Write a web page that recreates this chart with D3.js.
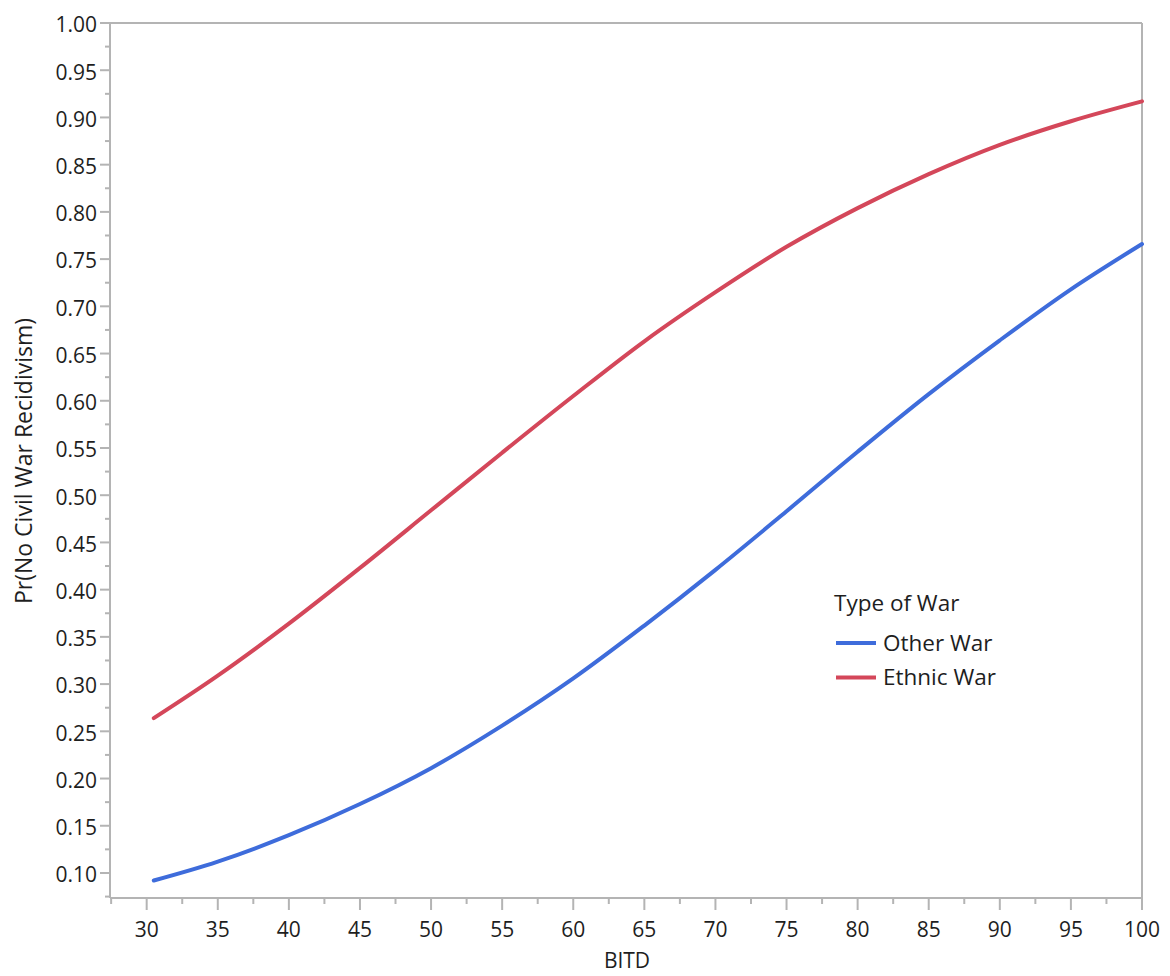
<!DOCTYPE html>
<html>
<head>
<meta charset="utf-8">
<script src="https://cdn.jsdelivr.net/npm/d3@7"></script>
<style>
  html, body { margin: 0; padding: 0; background: #fff; }
  svg text { font-family: "Open Sans", "Noto Sans", sans-serif; fill: #1e1e1e; }
</style>
</head>
<body>
<svg id="chart" width="1170" height="976"></svg>
<script>
// ---- data ----
const bitd = [30.5, 35, 40, 45, 50, 55, 60, 65, 70, 75, 80, 85, 90, 95, 100];
const otherWar = [0.092, 0.112, 0.140, 0.173, 0.211, 0.256, 0.306, 0.362, 0.421, 0.483, 0.546, 0.607, 0.664, 0.718, 0.766];
const ethnicWar = [0.264, 0.309, 0.364, 0.423, 0.484, 0.545, 0.605, 0.663, 0.715, 0.763, 0.804, 0.840, 0.871, 0.896, 0.917];
const seriesNames = ["Other War", "Ethnic War"];
const seriesColors = ["#3e6cdb", "#d4475a"];
const xTicks = [30, 35, 40, 45, 50, 55, 60, 65, 70, 75, 80, 85, 90, 95, 100];
const yTicks = [0.10, 0.15, 0.20, 0.25, 0.30, 0.35, 0.40, 0.45, 0.50, 0.55, 0.60, 0.65, 0.70, 0.75, 0.80, 0.85, 0.90, 0.95, 1.00];
const xTitle = "BITD";
const yTitle = "Pr(No Civil War Recidivism)";
const legendTitle = "Type of War";

(function () {
// ---- layout ----
const pL = 110, pR = 1142, pT = 23, pB = 898;
const svg = d3.select("#chart");
const x = d3.scaleLinear().domain([27.42, 100]).range([pL, pR]);
const y = d3.scaleLinear().domain([0.0735, 1.0]).range([pB, pT]);
const axisColor = "#b4b4b4";

// frame top/right
svg.append("line").attr("x1", pL).attr("x2", pR).attr("y1", pT).attr("y2", pT)
  .attr("stroke", axisColor).attr("stroke-width", 2);
svg.append("line").attr("x1", pR).attr("x2", pR).attr("y1", pT).attr("y2", pB)
  .attr("stroke", axisColor).attr("stroke-width", 2);

// x axis
const xMinor = d3.range(27.5, 100, 5);
const gx = svg.append("g").attr("transform", `translate(0,${pB})`);
gx.append("line").attr("x1", pL).attr("x2", pR).attr("stroke", axisColor).attr("stroke-width", 2);
gx.selectAll(".minor").data(xMinor).join("line").attr("class", "minor")
  .attr("x1", d => x(d)).attr("x2", d => x(d)).attr("y1", 0).attr("y2", 6)
  .attr("stroke", axisColor).attr("stroke-width", 2);
gx.selectAll(".major").data(xTicks).join("line").attr("class", "major")
  .attr("x1", d => x(d)).attr("x2", d => x(d)).attr("y1", 0).attr("y2", 12)
  .attr("stroke", axisColor).attr("stroke-width", 2);
gx.selectAll("text").data(xTicks).join("text")
  .attr("x", d => x(d)).attr("y", 39)
  .attr("text-anchor", "middle").attr("font-size", 21)
  .text(d => d);

// y axis
const yMinor = d3.range(0.075, 1.0, 0.05);
const gy = svg.append("g").attr("transform", `translate(${pL},0)`);
gy.append("line").attr("y1", pT).attr("y2", pB).attr("stroke", axisColor).attr("stroke-width", 2);
gy.selectAll(".minor").data(yMinor).join("line").attr("class", "minor")
  .attr("y1", d => y(d)).attr("y2", d => y(d)).attr("x1", 0).attr("x2", -5)
  .attr("stroke", axisColor).attr("stroke-width", 2);
gy.selectAll(".major").data(yTicks).join("line").attr("class", "major")
  .attr("y1", d => y(d)).attr("y2", d => y(d)).attr("x1", 0).attr("x2", -10)
  .attr("stroke", axisColor).attr("stroke-width", 2);
gy.selectAll("text").data(yTicks).join("text")
  .attr("x", -13).attr("y", d => y(d) + 2).attr("dy", "0.35em")
  .attr("text-anchor", "end").attr("font-size", 21)
  .text(d => d3.format(".2f")(d));

// axis titles
svg.append("text").attr("x", 627).attr("y", 968)
  .attr("text-anchor", "middle").attr("font-size", 21).text(xTitle);
svg.append("text").attr("transform", `translate(32,461) rotate(-90)`)
  .attr("text-anchor", "middle").attr("font-size", 23).text(yTitle);

// lines
const line = d3.line().x(d => x(d[0])).y(d => y(d[1])).curve(d3.curveCatmullRom);
[otherWar, ethnicWar].forEach((vals, i) => {
  svg.append("path").datum(bitd.map((b, j) => [b, vals[j]]))
    .attr("d", line).attr("fill", "none")
    .attr("stroke", seriesColors[i]).attr("stroke-width", 4)
    .attr("stroke-linecap", "round");
});

// legend
const lg = svg.append("g");
lg.append("text").attr("x", 834).attr("y", 611).attr("font-size", 22.5).text(legendTitle);
seriesNames.forEach((n, i) => {
  const yy = 643 + i * 34.5;
  lg.append("line").attr("x1", 836).attr("x2", 876).attr("y1", yy).attr("y2", yy)
    .attr("stroke", seriesColors[i]).attr("stroke-width", 4);
  lg.append("text").attr("x", 883).attr("y", yy).attr("dy", "0.35em")
    .attr("font-size", 22.5).text(n);
});
})();
</script>
</body>
</html>
